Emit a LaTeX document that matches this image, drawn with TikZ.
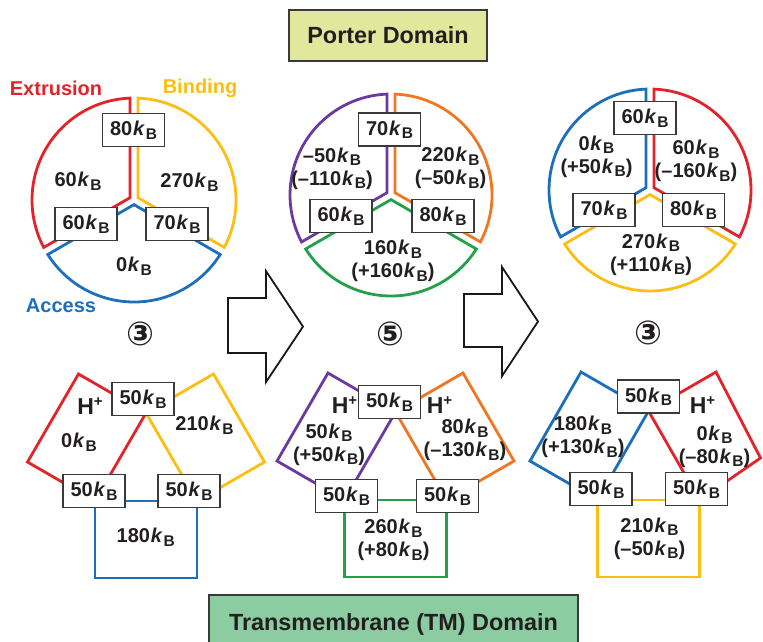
\documentclass[tikz,border=0pt]{standalone}
\usepackage{fontspec}
\setmainfont{Liberation Sans}
\newfontfamily\symfont{DejaVu Sans}
\usetikzlibrary{calc}
\definecolor{cred}{HTML}{E2232A}
\definecolor{cyellow}{HTML}{FDBE14}
\definecolor{cblue}{HTML}{1C6FBA}
\definecolor{cpurple}{HTML}{6B3A9E}
\definecolor{corange}{HTML}{EF7622}
\definecolor{cgreen}{HTML}{22A14A}
\definecolor{txt}{HTML}{231F20}
\definecolor{boxgray}{HTML}{3A3A3A}
\definecolor{porterfill}{HTML}{E1E89C}
\definecolor{tmfill}{HTML}{8BCCA0}
\newcommand\kB{\kern0.8pt\textit{k}\kern0.8pt\raisebox{-3.5pt}{\fontsize{15.5}{15.5}\selectfont B}}
\newcommand\Hp{{\fontsize{23}{23}\selectfont H}\raisebox{8pt}{\fontsize{15}{15}\selectfont +}}
\newcommand\sector[6]{%
  \draw[seg,#6] ([shift={({(#4+#5)/2}:4.6)}]#1,-#2) -- ([shift={({#4+2.3}:#3)}]#1,-#2)
    arc[start angle={#4+2.3}, end angle={#5-2.3}, radius=#3] -- cycle;}
\begin{document}
\begin{tikzpicture}[x=1pt,y=1pt,
  lbl/.style={font=\fontsize{20}{23}\selectfont\bfseries, text=txt, align=center, inner sep=0pt},
  kbox/.style={draw=boxgray, fill=white, line width=1.4pt, minimum width=62pt, minimum height=33pt,
    inner sep=0pt, font=\fontsize{20}{23}\selectfont\bfseries, text=txt},
  seg/.style={line width=2.8pt, line join=miter},
  blockarrow/.style={draw=black!90, line width=1.8pt, line join=miter, fill=white},
  title/.style={draw=boxgray, line width=1.4pt, inner sep=0pt, font=\fontsize{23.4}{26}\selectfont\bfseries, text=txt},
  circnum/.style={font=\symfont\bfseries\fontsize{33}{33}\selectfont, text=txt, inner sep=0pt}]
\useasboundingbox (0,0) rectangle (763,-641);

% ---------- titles
\node[title, fill=porterfill, minimum width=198pt, minimum height=51pt] (porter) at (388,-35.5) {Porter Domain};
\node[title, fill=tmfill, minimum width=369pt, minimum height=58pt] (tm) at (393.5,-624) {Transmembrane (TM) Domain};

% ---------- circle 1
\sector{134}{200}{102}{90}{210}{cred}
\sector{134}{200}{102}{-30}{90}{cyellow}
\sector{134}{200}{102}{210}{330}{cblue}
\node[kbox] (c1t) at (133.5,-130) {80\kB};
\node[kbox] (c1l) at (86,-224) {60\kB};
\node[kbox] (c1r) at (177,-224) {70\kB};
\node[lbl] (c1a) at (78,-181) {60\kB};
\node[lbl] (c1b) at (189.5,-182) {270\kB};
\node[lbl] (c1c) at (134,-266) {0\kB};
\node[lbl, text=cred, anchor=base] (extr) at (56,-95) {Extrusion};
\node[lbl, text=cyellow, anchor=base] (bind) at (200,-93) {Binding};
\node[lbl, text=cblue, anchor=base] (acc) at (61,-312) {Access};

% ---------- circle 2
\sector{391}{195}{101}{90}{210}{cpurple}
\sector{391}{195}{101}{-30}{90}{corange}
\sector{391}{195}{101}{210}{330}{cgreen}
\node[kbox] (c2t) at (389.5,-129.5) {70\kB};
\node[kbox] (c2l) at (341,-216) {60\kB};
\node[kbox] (c2r) at (443,-216) {80\kB};
\node[lbl] (c2a) at (332,-168.5) {–50\kB\\(–110\kB)};
\node[lbl] (c2b) at (450.5,-168) {220\kB\\(–50\kB)};
\node[lbl] (c2c) at (393,-261) {160\kB\\(+160\kB)};

% ---------- circle 3
\sector{650}{190}{101}{90}{210}{cblue}
\sector{650}{190}{101}{-30}{90}{cred}
\sector{650}{190}{101}{210}{330}{cyellow}
\node[kbox] (c3t) at (645,-118) {60\kB};
\node[kbox] (c3l) at (604,-210) {70\kB};
\node[kbox] (c3r) at (693.5,-210) {80\kB};
\node[lbl] (c3a) at (596.5,-156.5) {0\kB\\(+50\kB)};
\node[lbl] (c3b) at (696,-161) {60\kB\\(–160\kB)};
\node[lbl] (c3c) at (651,-254.5) {270\kB\\(+110\kB)};

% ---------- block arrows
\draw[blockarrow] (228,-298) -- (266,-298) -- (266,-271) -- (303,-326.5) -- (266,-382) -- (266,-353) -- (228,-353) -- cycle;
\draw[blockarrow] (464,-294) -- (502,-294) -- (502,-267) -- (538,-321.5) -- (502,-376) -- (502,-347) -- (464,-347) -- cycle;

% ---------- circled numbers
\node[circnum] (n1) at (140,-334) {③};
\node[circnum] (n2) at (390,-333.5) {⑤};
\node[circnum] (n3) at (648,-333) {③};

% ---------- TM panel 1
\draw[seg,cred] (95,-501) -- (146,-413) -- (78.5,-374) -- (27.5,-462) -- cycle;
\draw[seg,cyellow] (146,-413) -- (197,-501) -- (264.5,-462) -- (213.5,-374) -- cycle;
\draw[seg,cblue] (95,-501) -- (197,-501) -- (197,-578) -- (95,-578) -- cycle;
\node[kbox] (t1t) at (143,-399) {50\kB};
\node[kbox] (t1l) at (94,-491) {50\kB};
\node[kbox] (t1r) at (189,-491) {50\kB};
\node[lbl] (t1h) at (90,-406) {\Hp};
\node[lbl] (t1a) at (79,-442) {0\kB};
\node[lbl] (t1b) at (204.5,-425) {210\kB};
\node[lbl] (t1c) at (145.7,-537) {180\kB};

% ---------- TM panel 2
\draw[seg,cpurple] (344.5,-500) -- (395.5,-412) -- (328,-373) -- (277,-461) -- cycle;
\draw[seg,corange] (395.5,-412) -- (446.5,-500) -- (514,-461) -- (463,-373) -- cycle;
\draw[seg,cgreen] (344.5,-500) -- (446.5,-500) -- (446.5,-577) -- (344.5,-577) -- cycle;
\node[kbox] (t2t) at (389.5,-402) {50\kB};
\node[kbox] (t2l) at (346.5,-496) {50\kB};
\node[kbox] (t2r) at (447.5,-496) {50\kB};
\node[lbl] (t2h1) at (344.5,-405) {\Hp};
\node[lbl] (t2a) at (329,-444.5) {50\kB\\(+50\kB)};
\node[lbl] (t2h2) at (439.5,-405) {\Hp};
\node[lbl] (t2b) at (465,-440) {80\kB\\(–130\kB)};
\node[lbl] (t2c) at (393.5,-540) {260\kB\\(+80\kB)};

% ---------- TM panel 3
\draw[seg,cblue] (597.5,-500) -- (648.5,-411) -- (581,-372) -- (530,-461) -- cycle;
\draw[seg,cred] (648.5,-411) -- (699.5,-500) -- (760.5,-458) -- (716,-372) -- cycle;
\draw[seg,cyellow] (597.5,-500) -- (699.5,-500) -- (699.5,-577) -- (597.5,-577) -- cycle;
\node[kbox] (t3t) at (648.5,-396.5) {50\kB};
\node[kbox] (t3l) at (601,-489) {50\kB};
\node[kbox] (t3r) at (696.5,-489) {50\kB};
\node[lbl] (t3a) at (583,-437) {180\kB\\(+130\kB)};
\node[lbl] (t3h) at (702.5,-405) {\Hp};
\node[lbl] (t3b) at (714.5,-446.5) {0\kB\\(–80\kB)};
\node[lbl] (t3c) at (649.5,-538.5) {210\kB\\(–50\kB)};
\end{tikzpicture}
\end{document}
